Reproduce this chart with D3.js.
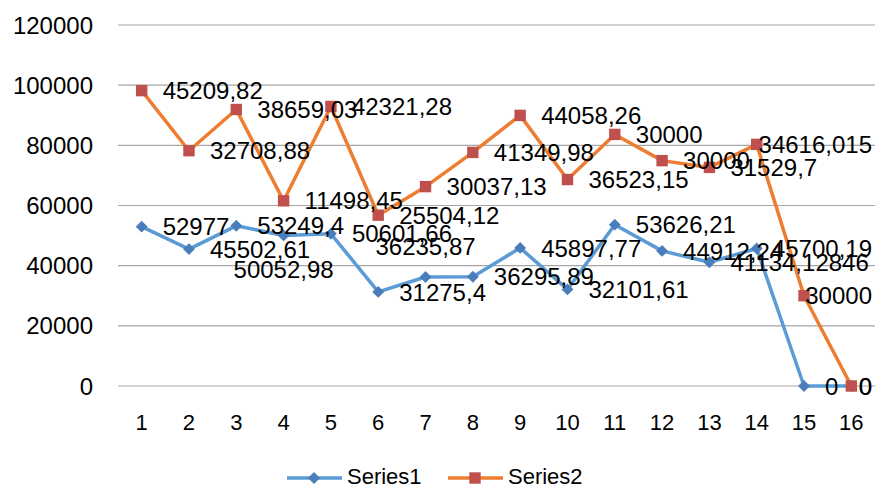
<!DOCTYPE html>
<html>
<head>
<meta charset="utf-8">
<script src="https://cdn.jsdelivr.net/npm/d3@7"></script>
<style>
  body { margin: 0; background: #fff; }
  text { font-family: "Liberation Sans", Arial, sans-serif; fill: #000; }
</style>
</head>
<body>
<div id="chart"></div>
<script>
// data (series are drawn stacked, labels show raw values)
const categories = ["1","2","3","4","5","6","7","8","9","10","11","12","13","14","15","16"];
const series1 = [52977, 45502.61, 53249.4, 50052.98, 50601.66, 31275.4, 36235.87, 36295.89,
                 45897.77, 32101.61, 53626.21, 44912.24, 41134.12846, 45700.19, 0, 0];
const series2 = [45209.82, 32708.88, 38659.03, 11498.45, 42321.28, 25504.12, 30037.13, 41349.98,
                 44058.26, 36523.15, 30000, 30000, 31529.7, 34616.015, 30000, 0];
const series1Labels = ["52977","45502,61","53249,4","50052,98","50601,66","31275,4","36235,87","36295,89",
                       "45897,77","32101,61","53626,21","44912,24","41134,12846","45700,19","0","0"];
const series2Labels = ["45209,82","32708,88","38659,03","11498,45","42321,28","25504,12","30037,13","41349,98",
                       "44058,26","36523,15","30000","30000","31529,7","34616,015","30000","0"];
const yTicks = [0, 20000, 40000, 60000, 80000, 100000, 120000];
const seriesNames = ["Series1", "Series2"];

// label placement per point (most sit to the right)
const s1Place = categories.map((c, i) => i === 3 ? "below" : i === 6 ? "above" : "right");

const width = 878, height = 489;
const plotL = 118, plotR = 875, plotT = 25, plotB = 386;
const LINE1 = "#5B9BD5", LINE2 = "#ED7D31", MARK1 = "#4A7EBB", MARK2 = "#C0504D";

const svg = d3.select("#chart").append("svg")
  .attr("width", width).attr("height", height);

const x = d3.scaleBand().domain(categories).range([plotL, plotR]);
const y = d3.scaleLinear().domain([0, 120000]).range([plotB, plotT]);
const cx = c => x(c) + x.bandwidth() / 2;

// gridlines
svg.append("g").selectAll("line").data(yTicks).enter().append("line")
  .attr("x1", plotL).attr("x2", plotR)
  .attr("y1", d => y(d)).attr("y2", d => y(d))
  .attr("stroke", "#A6A6A6").attr("stroke-width", 1.2);

// y tick labels
svg.append("g").selectAll("text").data(yTicks).enter().append("text")
  .attr("x", 93).attr("y", d => y(d)).attr("dy", "0.36em")
  .attr("text-anchor", "end").style("font-size", "24px")
  .text(d => d);

// x labels
svg.append("g").selectAll("text").data(categories).enter().append("text")
  .attr("x", d => cx(d)).attr("y", 422).attr("dy", "0.36em")
  .attr("text-anchor", "middle").style("font-size", "22px")
  .text(d => d);

const stack1 = series1;
const stack2 = series2.map((v, i) => v + series1[i]);

const line = d3.line().x((d, i) => cx(categories[i])).y(d => y(d));

svg.append("path").datum(stack1).attr("d", line)
  .attr("fill", "none").attr("stroke", LINE1).attr("stroke-width", 3.5).attr("stroke-linejoin", "round");
svg.append("path").datum(stack2).attr("d", line)
  .attr("fill", "none").attr("stroke", LINE2).attr("stroke-width", 3.5).attr("stroke-linejoin", "round");

const diamond = d3.symbol().type(d3.symbolDiamond2).size(90);
const square = d3.symbol().type(d3.symbolSquare).size(130);

svg.append("g").selectAll("path").data(stack1).enter().append("path")
  .attr("d", diamond)
  .attr("transform", (d, i) => `translate(${cx(categories[i])},${y(d)})`)
  .attr("fill", MARK1);
svg.append("g").selectAll("path").data(stack2).enter().append("path")
  .attr("d", square)
  .attr("transform", (d, i) => `translate(${cx(categories[i])},${y(d)})`)
  .attr("fill", MARK2);

// data labels
function addLabels(vals, labels, places) {
  const g = svg.append("g");
  vals.forEach((v, i) => {
    const px = cx(categories[i]), py = y(v);
    const t = g.append("text").style("font-size", "24px").text(labels[i]);
    const w = t.node().getComputedTextLength();
    const p = places ? places[i] : "right";
    if (p === "below") {
      t.attr("x", px).attr("y", py + 34).attr("dy", "0.36em").attr("text-anchor", "middle");
    } else if (p === "above") {
      t.attr("x", px).attr("y", py - 31).attr("dy", "0.36em").attr("text-anchor", "middle");
    } else {
      let lx = px + 21;
      if (lx + w > 872) lx = 872 - w;
      t.attr("x", lx).attr("y", py).attr("dy", "0.36em");
    }
  });
}
addLabels(stack1, series1Labels, s1Place);
addLabels(stack2, series2Labels, null);

// legend
const leg = svg.append("g");
const legItems = [
  { name: seriesNames[0], line: LINE1, mark: MARK1, sym: diamond, x0: 287 },
  { name: seriesNames[1], line: LINE2, mark: MARK2, sym: square, x0: 448 }
];
legItems.forEach(d => {
  leg.append("line").attr("x1", d.x0).attr("x2", d.x0 + 55)
    .attr("y1", 478).attr("y2", 478).attr("stroke", d.line).attr("stroke-width", 3.5);
  leg.append("path").attr("d", d.sym)
    .attr("transform", `translate(${d.x0 + 27},478)`).attr("fill", d.mark);
  leg.append("text").attr("x", d.x0 + 60).attr("y", 476).attr("dy", "0.36em")
    .style("font-size", "22px").text(d.name);
});
</script>
</body>
</html>
